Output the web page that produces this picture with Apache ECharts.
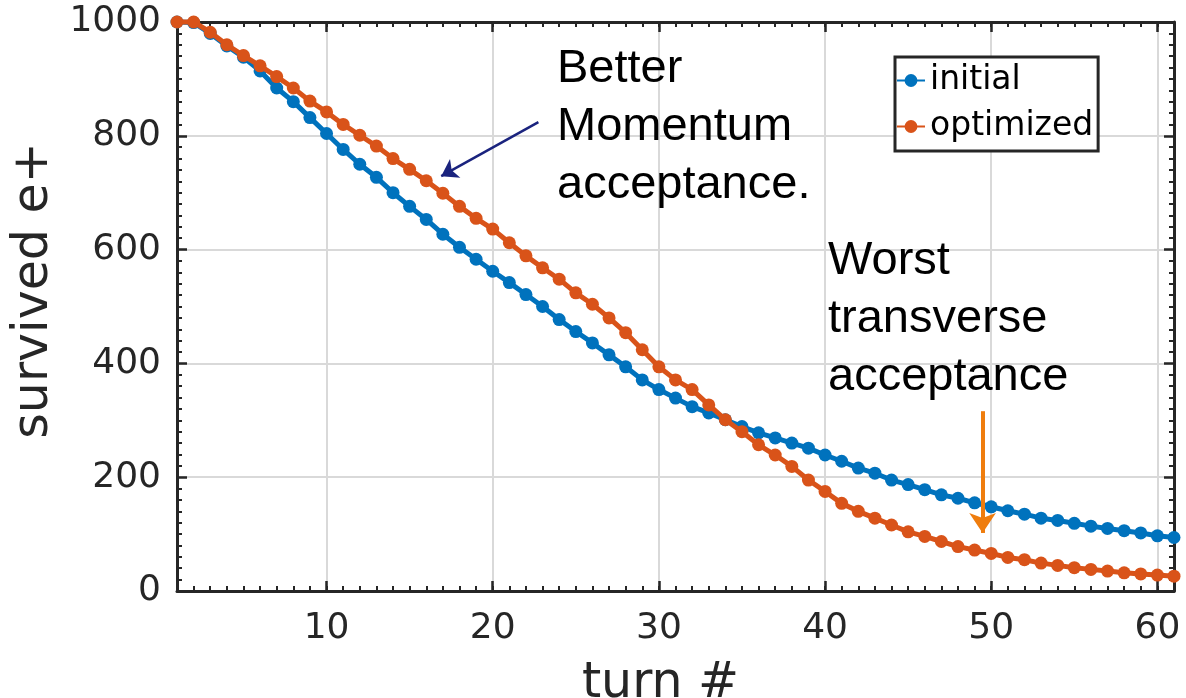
<!DOCTYPE html>
<html>
<head>
<meta charset="utf-8">
<script src="https://cdn.jsdelivr.net/npm/echarts@6/dist/echarts.min.js"></script>
<style>
  html, body { margin: 0; padding: 0; background: #ffffff; }
  #chart { width: 1186px; height: 698px; }
</style>
</head>
<body>
<div id="chart"></div>
<script>
// Turn number of each sample
const turns = [
  1, 2, 3, 4, 5, 6, 7, 8, 9, 10,
  11, 12, 13, 14, 15, 16, 17, 18, 19, 20,
  21, 22, 23, 24, 25, 26, 27, 28, 29, 30,
  31, 32, 33, 34, 35, 36, 37, 38, 39, 40,
  41, 42, 43, 44, 45, 46, 47, 48, 49, 50,
  51, 52, 53, 54, 55, 56, 57, 58, 59, 60, 61
];

// Surviving positrons per turn, initial lattice
const initialSurvived = [
  1000, 999, 980, 958, 938, 914, 884, 860, 832, 804,
  776, 750, 727, 700, 676, 653, 627, 604, 583, 562,
  542, 521, 500, 477, 456, 436, 415, 394, 371, 354,
  339, 324, 313, 301, 289, 278, 269, 260, 251, 239,
  228, 216, 207, 195, 187, 178, 169, 163, 155, 148,
  141, 135, 128, 124, 119, 114, 110, 106, 102, 97, 94
];

// Surviving positrons per turn, optimized lattice
const optimizedSurvived = [
  1000, 1000, 982, 960, 941, 923, 904, 884, 861, 842,
  820, 801, 782, 760, 741, 721, 699, 676, 655, 636,
  612, 589, 568, 548, 524, 504, 480, 454, 424, 394,
  371, 354, 327, 301, 280, 257, 239, 219, 195, 175,
  154, 140, 128, 116, 104, 96, 87, 78, 72, 66,
  59, 55, 49, 45, 41, 38, 35, 32, 30, 28, 26
];

const seriesNames = ['initial', 'optimized'];
const xMajorTicks = [10, 20, 30, 40, 50, 60];

// Annotation arrows in data units: [from, to]
const momentumArrow = [[22.75, 824], [16.9, 729]];
const transverseArrow = [[49.48, 316], [49.48, 102]];

const pairs = (ys) => turns.map((t, i) => [t, ys[i]]);

const FRAME = '#262626';
const GRID = '#d9d9d9';
const BLUE = '#0072BD';
const ORANGE = '#D95319';
const tickFont = { fontFamily: 'DejaVu Sans', fontSize: 36, color: '#262626' };
const titleFont = { fontFamily: 'DejaVu Sans', fontSize: 49, color: '#262626' };

const chart = echarts.init(document.getElementById('chart'), null, { renderer: 'canvas' });

const frameX = (pos) => ({
  type: 'value', position: pos, min: 1, max: 61, interval: 1, z: 1,
  axisLine: { show: true, onZero: false, lineStyle: { color: FRAME, width: 3 } },
  axisTick: { show: true, inside: true, length: 5, lineStyle: { color: FRAME, width: 2 } },
  axisLabel: { show: false }, splitLine: { show: false }
});
const majorX = (pos, labels) => ({
  type: 'value', position: pos, min: 1, max: 61, z: 1,
  axisLine: { show: false, onZero: false },
  axisTick: { show: true, inside: true, length: 10, customValues: xMajorTicks, lineStyle: { color: FRAME, width: 2.5 } },
  axisLabel: Object.assign({ show: labels, customValues: xMajorTicks, margin: 20 }, tickFont),
  splitLine: { show: labels, lineStyle: { color: GRID, width: 2 } },
  name: labels ? 'turn #' : '', nameLocation: 'middle', nameGap: 69,
  nameTextStyle: Object.assign({ padding: [0, 30, 0, 0] }, titleFont)
});
const frameY = (pos, labels) => ({
  type: 'value', position: pos, min: 0, max: 1000, interval: 200, z: labels ? 0 : 1,
  axisLine: { show: true, onZero: false, lineStyle: { color: FRAME, width: 3 } },
  axisTick: { show: true, inside: true, length: 10, lineStyle: { color: FRAME, width: 2.5 } },
  minorTick: { show: true, splitNumber: 10, length: 5, lineStyle: { color: FRAME, width: 2 } },
  axisLabel: Object.assign({ show: labels, margin: 16, formatter: (v) => String(v) }, tickFont),
  splitLine: { show: labels, lineStyle: { color: GRID, width: 2 } },
  name: labels ? 'survived e+' : '', nameLocation: 'middle', nameGap: 116,
  nameTextStyle: Object.assign({ padding: [0, 0, 0, 32] }, titleFont)
});

const arrowLine = (seg, color, width, size) => ({
  silent: true, animation: false,
  symbol: ['none', 'arrow'], symbolSize: size,
  label: { show: false },
  lineStyle: { color: color, width: width, type: 'solid' },
  itemStyle: { color: color },
  emphasis: { disabled: true },
  data: [[{ coord: seg[0] }, { coord: seg[1] }]]
});

chart.setOption({
  animation: false,
  backgroundColor: '#ffffff',
  grid: { left: 177, right: 12, top: 22, bottom: 107, containLabel: false, outerBoundsMode: 'none' },
  xAxis: [majorX('bottom', true), frameX('bottom'), majorX('top', false), frameX('top')],
  yAxis: [frameY('left', true), frameY('right', false)],
  legend: {
    data: seriesNames, orient: 'vertical', left: 895, top: 57,
    itemWidth: 28, itemHeight: 16, itemGap: 13,
    padding: [7, 5, 8, 1],
    borderColor: FRAME, borderWidth: 3, backgroundColor: '#ffffff',
    textStyle: { fontFamily: 'DejaVu Sans', fontSize: 33, color: '#000000' }
  },
  series: [
    {
      name: seriesNames[0], type: 'line', data: pairs(initialSurvived),
      color: BLUE, symbol: 'circle', symbolSize: 13, showAllSymbol: true, clip: false,
      lineStyle: { width: 5 }, z: 2
    },
    {
      name: seriesNames[1], type: 'line', data: pairs(optimizedSurvived),
      color: ORANGE, symbol: 'circle', symbolSize: 13, showAllSymbol: true, clip: false,
      lineStyle: { width: 5 }, z: 3
    },
    { name: 'momentum-note', type: 'line', data: [], z: 4, markLine: arrowLine(momentumArrow, '#1a237e', 2.5, 16) },
    { name: 'transverse-note', type: 'line', data: [], z: 4, markLine: arrowLine(transverseArrow, '#ef7d0e', 4, 20) }
  ],
  graphic: [
    {
      type: 'text', left: 557, top: 40, z: 10,
      style: { text: 'Better\nMomentum\nacceptance.', fontFamily: 'Liberation Sans, Arial', fontSize: 47, lineHeight: 58, fill: '#000000' }
    },
    {
      type: 'text', left: 828, top: 232, z: 10,
      style: { text: 'Worst\ntransverse\nacceptance', fontFamily: 'Liberation Sans, Arial', fontSize: 47, lineHeight: 58, fill: '#000000' }
    }
  ]
});
</script>
</body>
</html>
